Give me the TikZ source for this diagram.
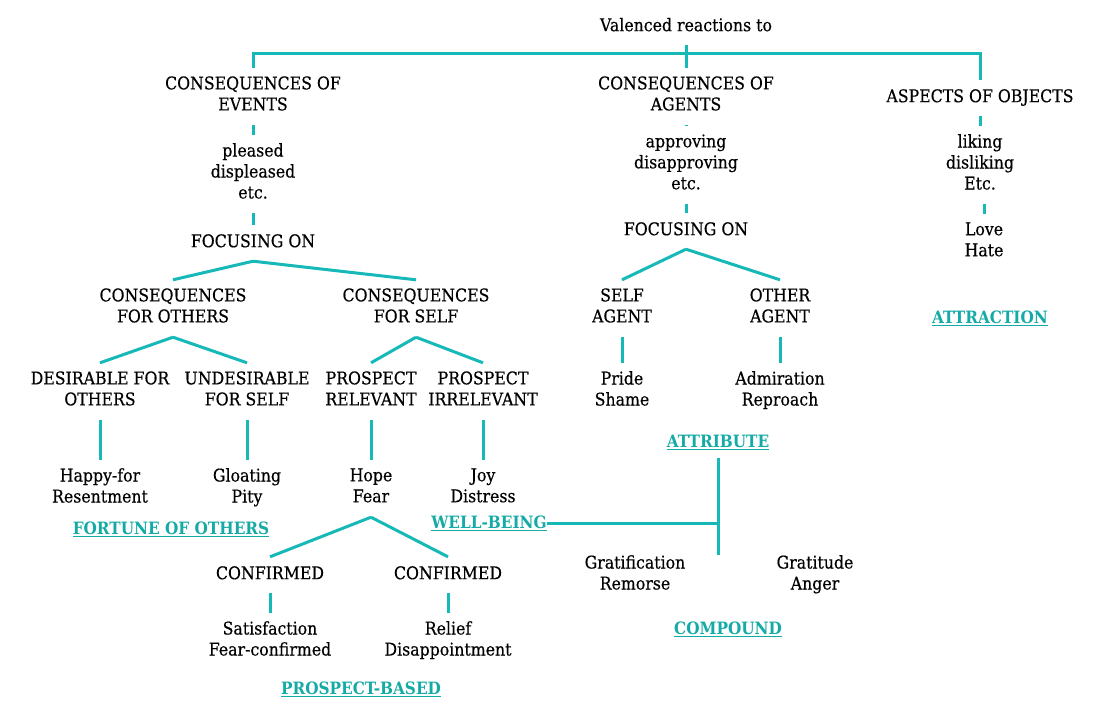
\documentclass[tikz,border=0pt]{standalone}
\usepackage{fontspec}
\setmainfont{DejaVu Serif}[FakeStretch=0.9,FakeBold=0.4]
\newfontfamily\catfont{DejaVu Serif Bold}[FakeStretch=0.9]
\definecolor{teal1}{RGB}{22,184,184}
\definecolor{teal2}{RGB}{20,170,165}
\begin{document}
\begin{tikzpicture}[x=1pt,y=-1pt,
  lbl/.style={align=center,inner xsep=0pt,inner ysep=0pt,font=\fontsize{17.5}{21}\selectfont,text=black,
    execute at begin node=\strut,execute at end node=\strut},
  one/.style={lbl,minimum height=36pt,yshift=-2pt},
  two/.style={lbl,minimum height=57pt,yshift=-2pt},
  three/.style={lbl,minimum height=78pt,yshift=-2pt},
  cat/.style={inner sep=0pt,font=\fontsize{17}{21}\catfont,text=teal2,minimum height=32pt},
  link/.style={draw=teal1,line width=3pt}]
\useasboundingbox (0,0) rectangle (1118,724);
% top
\node[one] (top) at (686,25) {Valenced reactions to};
\node[two] (events) at (253,94.5) {CONSEQUENCES OF\\EVENTS};
\node[two] (agents) at (686,94.5) {CONSEQUENCES OF\\AGENTS};
\node[one] (objects) at (980,96) {ASPECTS OF OBJECTS};
% events branch
\node[three] (pleased) at (253,172) {pleased\\displeased\\etc.};
\node[one] (focE) at (253,241) {FOCUSING ON};
\node[two] (cfo) at (173,306.5) {CONSEQUENCES\\FOR OTHERS};
\node[two] (cfs) at (416,306.5) {CONSEQUENCES\\FOR SELF};
\node[two] (dfo) at (100,389.5) {DESIRABLE FOR\\OTHERS};
\node[two] (ufs) at (247,389.5) {UNDESIRABLE\\FOR SELF};
\node[two] (pr) at (371,389.5) {PROSPECT\\RELEVANT};
\node[two] (pi) at (483,389.5) {PROSPECT\\IRRELEVANT};
\node[two] (happy) at (100,486.5) {Happy-for\\Resentment};
\node[two] (gloat) at (247,486.5) {Gloating\\Pity};
\node[two] (hope) at (371,486.5) {Hope\\Fear};
\node[two] (joy) at (483,486.5) {Joy\\Distress};
\node[cat] (fortune) at (171,529) {\underline{FORTUNE OF OTHERS}};
\node[cat] (wb) at (489,523) {\underline{WELL-BEING}};
\node[one] (conf1) at (270,573) {CONFIRMED};
\node[one] (conf2) at (448,573) {CONFIRMED};
\node[two] (sat) at (270,639.5) {Satisfaction\\Fear-confirmed};
\node[two] (rel) at (448,639.5) {Relief\\Disappointment};
\node[cat] (pb) at (361,689) {\underline{PROSPECT-BASED}};
% agents branch
\node[three] (appr) at (686,163) {approving\\disapproving\\etc.};
\node[one] (focA) at (686,229) {FOCUSING ON};
\node[two] (self) at (622,306.5) {SELF\\AGENT};
\node[two] (other) at (780,306.5) {OTHER\\AGENT};
\node[two] (pride) at (622,389.5) {Pride\\Shame};
\node[two] (admir) at (780,389.5) {Admiration\\Reproach};
\node[cat] (attr) at (718,442) {\underline{ATTRIBUTE}};
\node[two] (grat) at (635,573.5) {Gratification\\Remorse};
\node[two] (gratitude) at (815,573.5) {Gratitude\\Anger};
\node[cat] (comp) at (728,629) {\underline{COMPOUND}};
\coordinate (attrend) at (718,555);
% objects branch
\node[three] (liking) at (980,163) {liking\\disliking\\Etc.};
\node[two] (love) at (984,240.5) {Love\\Hate};
\node[cat] (attraction) at (990,318) {\underline{ATTRACTION}};
% connectors
\path[link] (events.north) -- (events.north |- 0,53) -- (objects.north |- 0,53) -- (objects.north);
\path[link] (top.south) -- (agents.north);
\path[link] (events.south) -- (pleased.north);
\path[link] (pleased.south) -- (focE.north);
\path[link] (focE.south) -- (cfo.north);
\path[link] (focE.south) -- (cfs.north);
\path[link] (cfo.south) -- (dfo.north);
\path[link] (cfo.south) -- (ufs.north);
\path[link] (cfs.south) -- (pr.north);
\path[link] (cfs.south) -- (pi.north);
\path[link] (dfo.south) -- (happy.north);
\path[link] (ufs.south) -- (gloat.north);
\path[link] (pr.south) -- (hope.north);
\path[link] (pi.south) -- (joy.north);
\path[link] (hope.south) -- (conf1.north);
\path[link] (hope.south) -- (conf2.north);
\path[link] (conf1.south) -- (sat.north);
\path[link] (conf2.south) -- (rel.north);
\path[link] (agents.south) -- (appr.north);
\path[link] (appr.south) -- (focA.north);
\path[link] (focA.south) -- (self.north);
\path[link] (focA.south) -- (other.north);
\path[link] (self.south) -- (pride.north);
\path[link] (other.south) -- (admir.north);
\path[link] (attr.south) -- (attrend);
\path[link] (wb.east) -- (wb.east -| attr);
\path[link] (objects.south) -- (liking.north);
\path[link] (liking.south -| love) -- (love.north);
\end{tikzpicture}
\end{document}
